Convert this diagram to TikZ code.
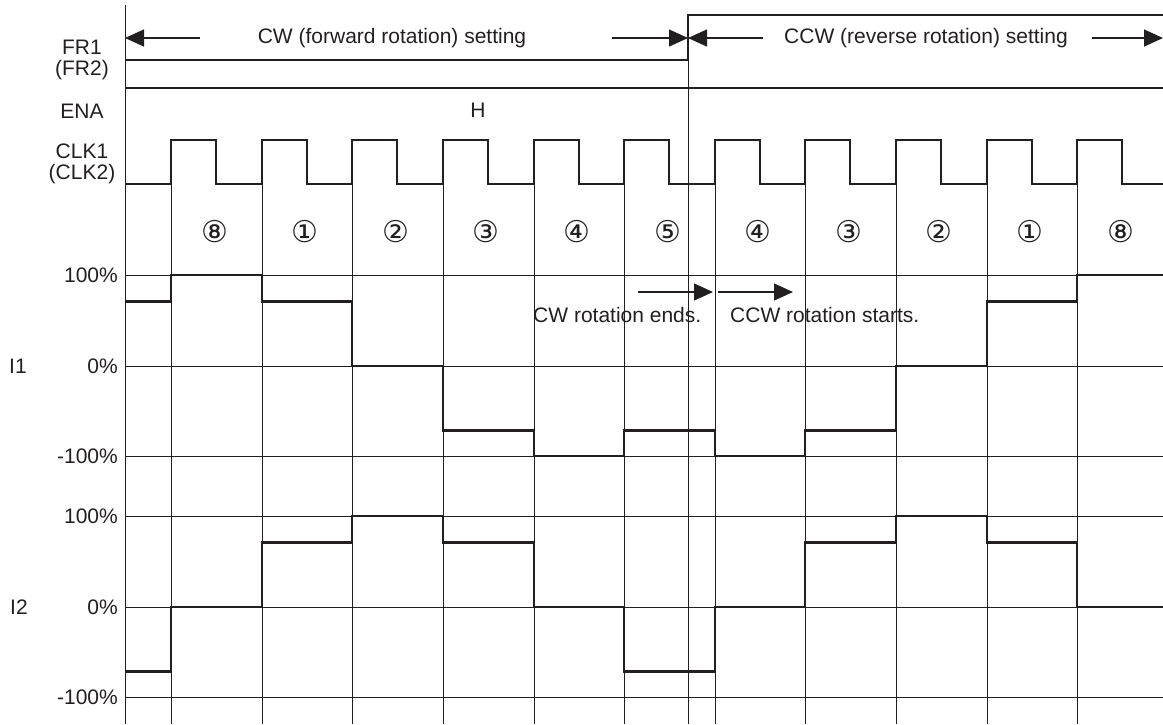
\documentclass[tikz,border=0pt]{standalone}
\usepackage{fontspec}
\setmainfont{Liberation Sans}
\newfontfamily\circfont{DejaVu Sans}
\usetikzlibrary{arrows.meta}
\definecolor{ink}{HTML}{231F20}

\begin{document}
\begin{tikzpicture}[x=1pt,y=-1pt,>={Triangle[length=19pt,width=17pt]},
  grid/.style={line width=1.1pt,draw=ink},
  wave/.style={line width=2.8pt,draw=ink},
  dim/.style={line width=1.2pt,draw=ink,->},
  lbl/.style={font=\fontsize{21}{21}\selectfont,text=ink,inner sep=0pt,align=center},
  pct/.style={lbl,anchor=east},
  stepnum/.style={lbl,font=\circfont\fontsize{30}{30}\selectfont}]
  \useasboundingbox (0,0) rectangle (1163,724);
  % grid
  \draw[grid] (125.5,5) -- (125.5,724);
  \draw[grid] (688.5,15) -- (688.5,724);
  \foreach \x in {171,262,352,443,534,624,715,805,896,987,1077}
    \draw[grid] (\x+0.5,184) -- (\x+0.5,724);
  \foreach \y in {275,366,456,516,607,697}
    \draw[grid] (125,\y+0.5) -- (1163,\y+0.5);
  % signals
  \draw[wave] (125,60) -| (688,15) -- (1163,15);
  \draw[wave] (125,88) -- (1163,88);
  \draw[wave] (125,184) \foreach \x in {171,262,352,443,534,624,715,805,896,987,1077} { -| (\x,140) -| (\x+45,184) } -- (1163,184);
  \draw[wave] (125,301.5) -| (171,275) -| (262,301.5) -| (352,366) -| (443,430.5) -| (534,456)
    -| (624,430.5) -| (715,456) -| (805,430.5) -| (896,366) -| (987,301.5) -| (1077,275) -- (1163,275);
  \draw[wave] (125,671.4) -| (171,607) -| (262,542.6) -| (352,516) -| (443,542.6) -| (534,607)
    -| (624,671.4) -| (715,607) -| (805,542.6) -| (896,516) -| (987,542.6) -| (1077,607) -- (1163,607);
  % labels
  \node[lbl] (fr) at (82,60) {FR1\\(FR2)};
  \node[lbl] (ena) at (82,111) {ENA};
  \node[lbl] (clk) at (82,164) {CLK1\\(CLK2)};
  \node[lbl] (high) at (478,110) {H};
  \node[lbl] (i1) at (18,366) {I1};
  \node[lbl] (i2) at (19,607) {I2};
  \node[pct] (p1a) at (118,275) {100\%};
  \node[pct] (p1b) at (118,366) {0\%};
  \node[pct] (p1c) at (118,456) {-100\%};
  \node[pct] (p2a) at (118,516) {100\%};
  \node[pct] (p2b) at (118,607) {0\%};
  \node[pct] (p2c) at (118,697) {-100\%};
  \foreach \c [count=\i from 0] in {⑧,①,②,③,④,⑤,④,③,②,①,⑧}
    \node[stepnum] (st\i) at ({214.5+90.6*\i},232) {\c};
  % rotation settings
  \node[lbl] (cw) at (392,38) {CW (forward rotation) setting};
  \node[lbl] (ccw) at (926,38) {CCW (reverse rotation) setting};
  \coordinate (cwl) at (125,38);
  \coordinate (cwlt) at (200,38);
  \coordinate (cwrt) at (612,38);
  \coordinate (sw) at (688,38);
  \coordinate (ccwlt) at (763,38);
  \coordinate (ccwrt) at (1092,38);
  \coordinate (ccwr) at (1163,38);
  \draw[dim] (cwlt) -- (cwl);
  \draw[dim] (cwrt) -- (sw);
  \draw[dim] (ccwlt) -- (sw);
  \draw[dim] (ccwrt) -- (ccwr);
  % reversal
  \node[lbl,anchor=west] (ends) at (533,315) {CW rotation ends.};
  \node[lbl,anchor=west] (starts) at (730,315) {CCW rotation starts.};
  \coordinate (e1) at (638,292);
  \coordinate (e2) at (713,292);
  \coordinate (s1) at (718,292);
  \coordinate (s2) at (793,292);
  \draw[dim] (e1) -- (e2);
  \draw[dim] (s1) -- (s2);
\end{tikzpicture}
\end{document}
